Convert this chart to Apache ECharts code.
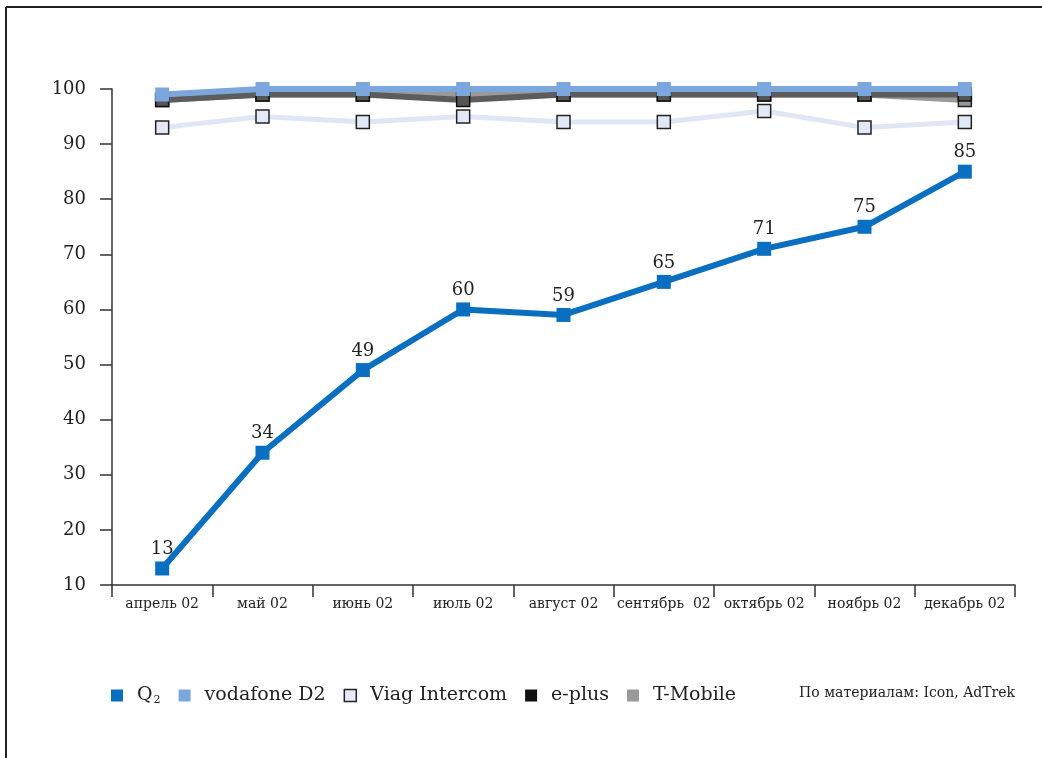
<!DOCTYPE html>
<html>
<head>
<meta charset="utf-8">
<script src="https://cdn.jsdelivr.net/npm/echarts@6/dist/echarts.min.js"></script>
<style>
  html, body { margin: 0; padding: 0; background: #fff; }
  #chart { width: 1042px; height: 758px; }
</style>
</head>
<body>
<div id="chart"></div>
<script>
const months = ["апрель 02", "май 02", "июнь 02", "июль 02", "август 02", "сентябрь  02", "октябрь 02", "ноябрь 02", "декабрь 02"];
const q2 = [13, 34, 49, 60, 59, 65, 71, 75, 85];
const vodafone = [99, 100, 100, 100, 100, 100, 100, 100, 100];
const viag = [93, 95, 94, 95, 94, 94, 96, 93, 94];
const eplus = [98, 99, 99, 98, 99, 99, 99, 99, 99];
const tmobile = [98, 99, 99, 99, 99, 99, 99, 99, 98];
const sourceNote = "По материалам: Icon, AdTrek";

const FONT = "DejaVu Serif";
const chart = echarts.init(document.getElementById("chart"));

const option = {
  backgroundColor: "#fff",
  animation: false,
  grid: { left: 112, right: 27, top: 89, bottom: 173 },
  xAxis: {
    type: "category",
    data: months,
    boundaryGap: true,
    axisLine: { show: true, lineStyle: { color: "#333", width: 1.5 } },
    axisTick: { show: true, inside: false, interval: 0, alignWithLabel: false, length: 12, lineStyle: { color: "#333", width: 1.5 } },
    axisLabel: { color: "#222", fontFamily: FONT, fontSize: 14, margin: 12, interval: 0 },
    splitLine: { show: false }
  },
  yAxis: {
    type: "value",
    min: 10,
    max: 100,
    interval: 10,
    axisLine: { show: true, lineStyle: { color: "#333", width: 1.5 } },
    axisTick: { show: true, inside: false, length: 12, lineStyle: { color: "#333", width: 1.5 } },
    axisLabel: { color: "#222", fontFamily: FONT, fontSize: 18, margin: 26 },
    splitLine: { show: false }
  },
  legend: {
    left: 106,
    top: 681,
    itemWidth: 12,
    itemHeight: 12,
    itemGap: 18,
    formatter: function (name) {
      return name === "Q2" ? "{q|Q}{s|2}" : name;
    },
    textStyle: {
      color: "#222",
      fontFamily: FONT,
      fontSize: 19,
      padding: [0, 0, 0, 9],
      rich: {
        q: { fontFamily: FONT, fontSize: 19, color: "#222" },
        s: { fontFamily: FONT, fontSize: 11, color: "#222", verticalAlign: "bottom", padding: [10, 0, 0, 1] }
      }
    },
    data: [
      { name: "Q2", icon: "rect", itemStyle: { color: "#0a6fc0", borderWidth: 0 } },
      { name: "vodafone D2", icon: "rect", itemStyle: { color: "#7ba7dc", borderWidth: 0 } },
      { name: "Viag Intercom", icon: "rect", itemStyle: { color: "#e4eaf6", borderColor: "#222", borderWidth: 1.5 } },
      { name: "e-plus", icon: "rect", itemStyle: { color: "#111", borderWidth: 0 } },
      { name: "T-Mobile", icon: "rect", itemStyle: { color: "#999", borderWidth: 0 } }
    ]
  },
  graphic: [
    { type: "line", shape: { x1: 6, y1: 7, x2: 6, y2: 758 }, style: { stroke: "#222", lineWidth: 2 } },
    { type: "line", shape: { x1: 6, y1: 7, x2: 1042, y2: 7 }, style: { stroke: "#222", lineWidth: 2 } },
    {
      type: "text", right: 27, top: 686,
      style: { text: sourceNote, fill: "#222", font: "14px 'DejaVu Serif'" }
    }
  ],
  series: [
    {
      name: "Viag Intercom", type: "line", data: viag, z: 2,
      symbol: "rect", symbolSize: 13,
      lineStyle: { color: "#dfe7f5", width: 5 },
      itemStyle: { color: "#e1e8f6", borderColor: "#222", borderWidth: 1.5 }
    },
    {
      name: "T-Mobile", type: "line", data: tmobile, z: 3,
      symbol: "rect", symbolSize: 13,
      lineStyle: { color: "#9a9a9a", width: 6 },
      itemStyle: { color: "#999", borderColor: "#222", borderWidth: 1.5 }
    },
    {
      name: "e-plus", type: "line", data: eplus, z: 4,
      symbol: "rect", symbolSize: 13,
      lineStyle: { color: "#5c5c5c", width: 6 },
      itemStyle: { color: "#555", borderColor: "#111", borderWidth: 1.5 }
    },
    {
      name: "vodafone D2", type: "line", data: vodafone, z: 5,
      symbol: "rect", symbolSize: 14,
      lineStyle: { color: "#7ba7dc", width: 6 },
      itemStyle: { color: "#7ba7dc", borderWidth: 0 }
    },
    {
      name: "Q2", type: "line", data: q2, z: 6,
      symbol: "rect", symbolSize: 14,
      lineStyle: { color: "#0a6fc0", width: 6 },
      itemStyle: { color: "#0a6fc0", borderWidth: 0 },
      label: { show: true, position: "top", distance: 3, color: "#222", fontFamily: FONT, fontSize: 18 }
    }
  ]
};

chart.setOption(option);
</script>
</body>
</html>
